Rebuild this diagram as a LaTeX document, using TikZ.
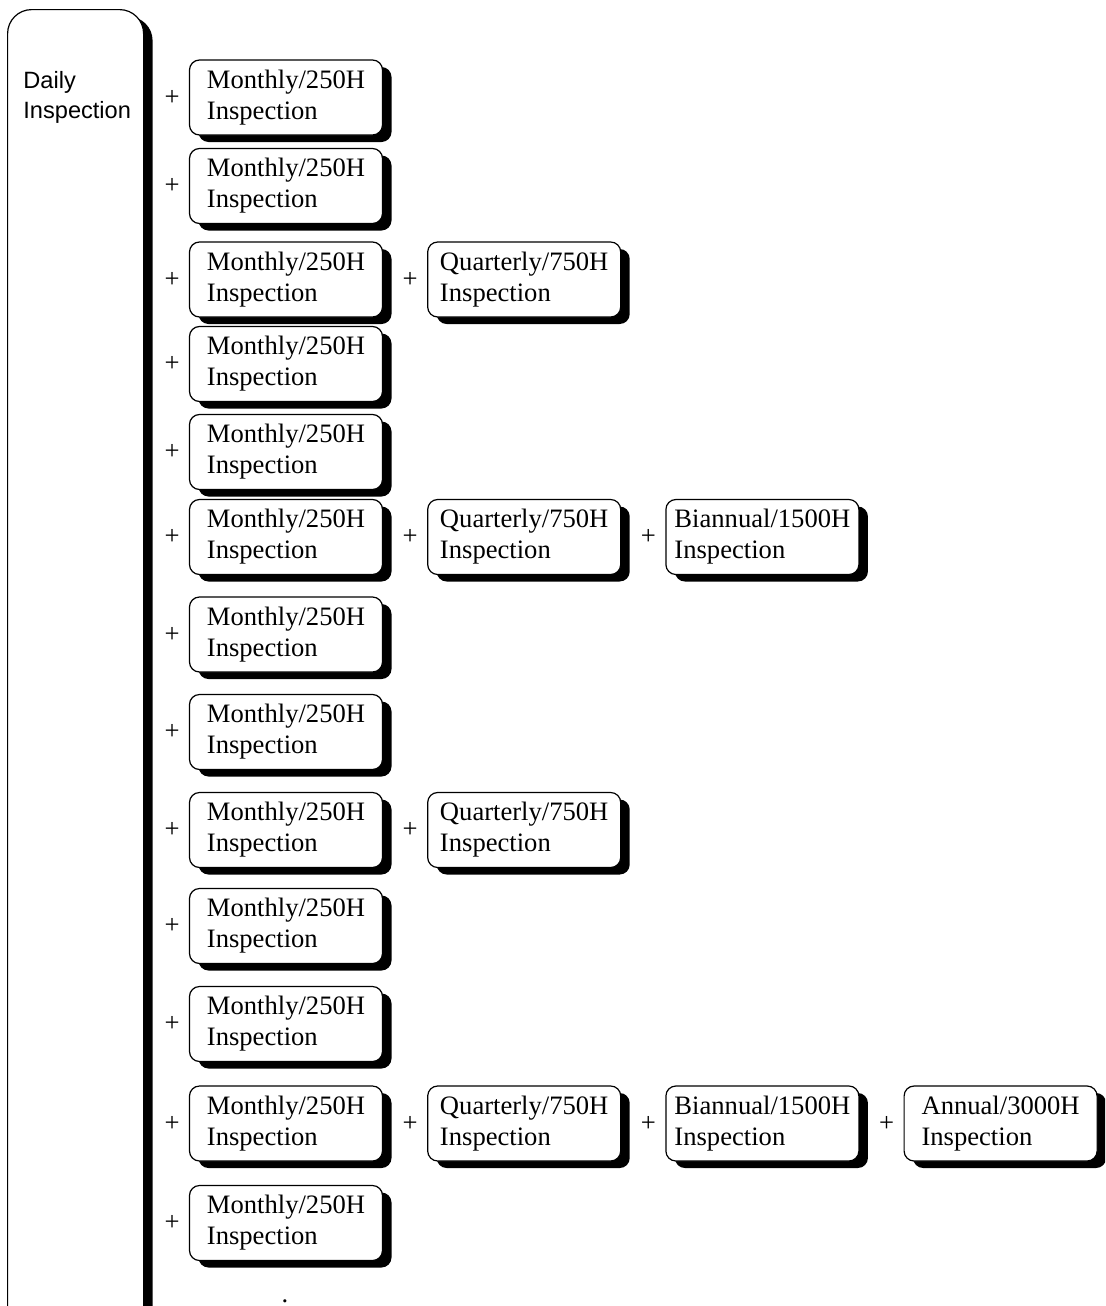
\documentclass[tikz,border=0pt]{standalone}
\usepackage{fontspec}
\setmainfont{Liberation Serif}
\newfontfamily\dailyfont{Liberation Sans}
\usetikzlibrary{positioning, shadows}

\begin{document}
\begin{tikzpicture}[
  x=0.5pt, y=-0.5pt,
  node distance=22pt,
  every node/.style={font=\fontsize{13.3}{15.5}\selectfont},
  box/.style={draw, line width=0.6pt, rounded corners=5pt, fill=white, minimum width=96.5pt, minimum height=37.5pt, inner sep=0pt, align=left,
    drop shadow={fill=black, opacity=1, shadow xshift=4.5pt, shadow yshift=-3.5pt}},
  daily/.style={box, rounded corners=12pt, minimum width=68pt, minimum height=720pt, anchor=north west},
  dailylbl/.style={font=\dailyfont\fontsize{11.8}{15}\selectfont, align=left, inner xsep=8pt, inner ysep=0pt, anchor=west},
  plus/.style={inner sep=0pt}
]

\path[use as bounding box, clip] (0,0) rectangle (1105,1306);

% Left column: daily inspection, runs off the page
\node[daily] (daily) at (7,9) {};

% Monthly column
\node[box] (m1)  at (286,97.5)  {Monthly/250H\\Inspection};
\node[box] (m2)  at (286,186)   {Monthly/250H\\Inspection};
\node[box] (m3)  at (286,279.5) {Monthly/250H\\Inspection};
\node[box] (m4)  at (286,364)   {Monthly/250H\\Inspection};
\node[box] (m5)  at (286,452)   {Monthly/250H\\Inspection};
\node[box] (m6)  at (286,537)   {Monthly/250H\\Inspection};
\node[box] (m7)  at (286,634.5) {Monthly/250H\\Inspection};
\node[box] (m8)  at (286,732)   {Monthly/250H\\Inspection};
\node[box] (m9)  at (286,830)   {Monthly/250H\\Inspection};
\node[box] (m10) at (286,926)   {Monthly/250H\\Inspection};
\node[box] (m11) at (286,1024)  {Monthly/250H\\Inspection};
\node[box] (m12) at (286,1123.5){Monthly/250H\\Inspection};
\node[box] (m13) at (286,1223)  {Monthly/250H\\Inspection};

\node[dailylbl] (dlbl) at (daily.west |- m1) {Daily\\Inspection};

% Quarterly, biannual, annual
\node[box, right=of m3]  (q3)  {Quarterly/750H\\Inspection};
\node[box, right=of m6]  (q6)  {Quarterly/750H\\Inspection};
\node[box, right=of q6]  (b6)  {Biannual/1500H\\Inspection};
\node[box, right=of m9]  (q9)  {Quarterly/750H\\Inspection};
\node[box, right=of m12] (q12) {Quarterly/750H\\Inspection};
\node[box, right=of q12] (b12) {Biannual/1500H\\Inspection};
\node[box, right=of b12] (a12) {Annual/3000H\\Inspection};

% Plus signs
\node[plus, left=4.5pt of m1]  (pm1)  {+};
\node[plus, left=4.5pt of m2]  (pm2)  {+};
\node[plus, left=4.5pt of m3]  (pm3)  {+};
\node[plus, left=4.5pt of m4]  (pm4)  {+};
\node[plus, left=4.5pt of m5]  (pm5)  {+};
\node[plus, left=4.5pt of m6]  (pm6)  {+};
\node[plus, left=4.5pt of m7]  (pm7)  {+};
\node[plus, left=4.5pt of m8]  (pm8)  {+};
\node[plus, left=4.5pt of m9]  (pm9)  {+};
\node[plus, left=4.5pt of m10] (pm10) {+};
\node[plus, left=4.5pt of m11] (pm11) {+};
\node[plus, left=4.5pt of m12] (pm12) {+};
\node[plus, left=4.5pt of m13] (pm13) {+};
\node[plus, left=4.5pt of q3]  (pq3)  {+};
\node[plus, left=4.5pt of q6]  (pq6)  {+};
\node[plus, left=4.5pt of b6]  (pb6)  {+};
\node[plus, left=4.5pt of q9]  (pq9)  {+};
\node[plus, left=4.5pt of q12] (pq12) {+};
\node[plus, left=4.5pt of b12] (pb12) {+};
\node[plus, left=4.5pt of a12] (pa12) {+};

% continues below
\node[plus, anchor=base] (more) at (285,1302) {.};

\end{tikzpicture}
\end{document}
